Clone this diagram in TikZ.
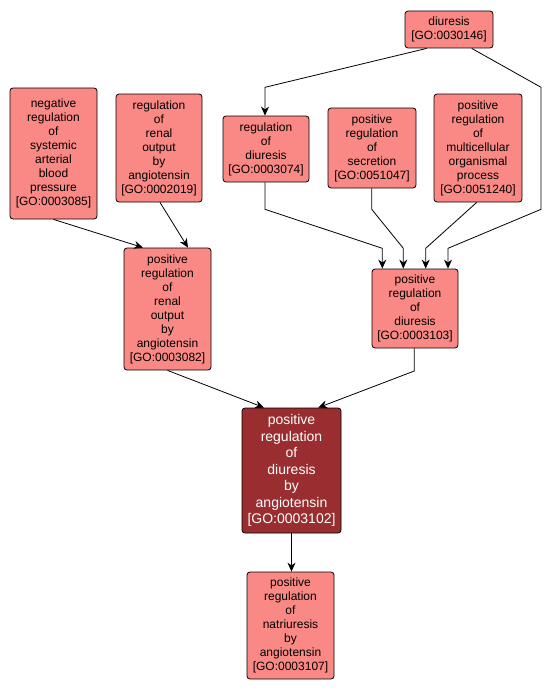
\documentclass[tikz,border=0pt]{standalone}
\usepackage{fontspec}
\setmainfont{Liberation Sans}
\usetikzlibrary{arrows.meta}
\definecolor{golight}{RGB}{250,137,133}
\definecolor{godark}{RGB}{153,45,48}
\tikzset{
  gobox/.style={draw=black, line width=0.8pt, rounded corners=3pt, fill=golight, inner sep=0pt, align=center, font=\fontsize{12}{14}\selectfont, text=black},
  gomain/.style={gobox, fill=godark, text=white, font=\fontsize{14}{16.5}\selectfont},
  edge/.style={draw=black, line width=0.8pt, -{Stealth[length=9pt,width=8pt]}}
}
\begin{document}
\begin{tikzpicture}[x=1pt,y=-1pt]
\useasboundingbox[fill=white] (0,0) rectangle (551,693);
\node[gobox, minimum width=87pt, minimum height=131pt] (n3085) at (53.5,153.5) {negative\\regulation\\of\\systemic\\arterial\\blood\\pressure\\{[GO:0003085]}};
\node[gobox, minimum width=86pt, minimum height=108pt] (n2019) at (159,148) {regulation\\of\\renal\\output\\by\\angiotensin\\{[GO:0002019]}};
\node[gobox, minimum width=87pt, minimum height=122pt] (n3082) at (167.5,309) {positive\\regulation\\of\\renal\\output\\by\\angiotensin\\{[GO:0003082]}};
\node[gobox, minimum width=86pt, minimum height=66pt] (n3074) at (266,149) {regulation\\of\\diuresis\\{[GO:0003074]}};
\node[gobox, minimum width=88pt, minimum height=80pt] (n1047) at (372,148) {positive\\regulation\\of\\secretion\\{[GO:0051047]}};
\node[gobox, minimum width=88pt, minimum height=108pt] (n1240) at (478,148) {positive\\regulation\\of\\multicellular\\organismal\\process\\{[GO:0051240]}};
\node[gobox, minimum width=88pt, minimum height=37pt] (n0146) at (449,29.5) {diuresis\\{[GO:0030146]}};
\node[gobox, minimum width=86pt, minimum height=79pt] (n3103) at (415,308.5) {positive\\regulation\\of\\diuresis\\{[GO:0003103]}};
\node[gomain, minimum width=99pt, minimum height=125pt] (n3102) at (291.5,470.5) {positive\\regulation\\of\\diuresis\\by\\angiotensin\\{[GO:0003102]}};
\node[gobox, minimum width=87pt, minimum height=107pt] (n3107) at (290.5,625.5) {positive\\regulation\\of\\natriuresis\\by\\angiotensin\\{[GO:0003107]}};
% edges
\draw[edge] (n3085.south) -- ([xshift=-24.5pt]n3082.north);
\draw[edge] ([xshift=1pt]n2019.south) -- ([xshift=20.5pt]n3082.north);
\draw[edge] ([xshift=-22.3pt]n0146.south) -- (265,87.3) -- ([xshift=-1pt]n3074.north);
\draw[edge] ([xshift=22.7pt]n0146.south) -- (541,87.3) -- (541,209.3) -- (448,248.3) -- ([xshift=33pt]n3103.north);
\draw[edge] ([xshift=-1pt]n3074.south) -- (265,209.3) -- (382.3,248.3) -- ([xshift=-32.7pt]n3103.north);
\draw[edge] ([xshift=-0.3pt]n1047.south) -- (371.7,209.3) -- (403.3,248.3) -- ([xshift=-11.7pt]n3103.north);
\draw[edge] ([xshift=-1.3pt]n1240.south) -- (425.7,248.3) -- ([xshift=10.7pt]n3103.north);
\draw[edge] (n3082.south) -- ([xshift=-27.5pt]n3102.north);
\draw[edge] ([xshift=-0.7pt]n3103.south) -- (414.3,371) -- ([xshift=26.8pt]n3102.north);
\draw[edge] (n3102.south) -- (n3102.south |- n3107.north);
\end{tikzpicture}
\end{document}
